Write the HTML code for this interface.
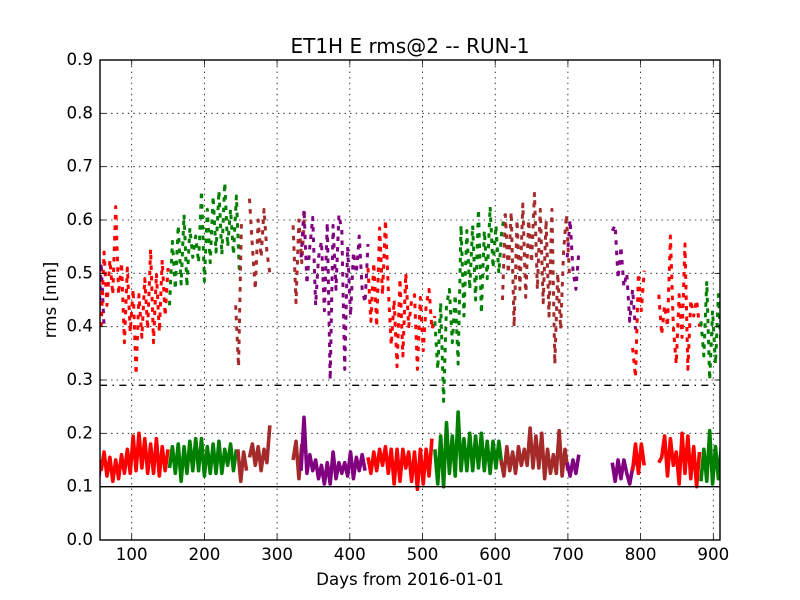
<!DOCTYPE html>
<html>
<head>
<meta charset="utf-8">
<title>ET1H E rms@2 -- RUN-1</title>
<style>
html,body{margin:0;padding:0;background:#fff;}
svg{display:block;}
text{font-family:"DejaVu Sans","Liberation Sans",sans-serif;fill:#000;}
</style>
</head>
<body>
<svg id="chart" width="800" height="600" viewBox="0 0 800 600" xmlns="http://www.w3.org/2000/svg">
  <defs><clipPath id="plot-clip"><rect x="100" y="60" width="620" height="480"/></clipPath></defs>
  <rect x="0" y="0" width="800" height="600" fill="#ffffff"/>
  <g id="grid-layer"></g>
  <g id="series-layer" clip-path="url(#plot-clip)"></g>
  <g id="frame-layer"></g>
  <text x="410" y="53" font-size="20" text-anchor="middle">ET1H E rms@2 -- RUN-1</text>
  <text x="410" y="585" font-size="16.67" text-anchor="middle">Days from 2016-01-01</text>
  <text x="0" y="0" font-size="16.67" text-anchor="middle" transform="translate(56 300) rotate(-90)">rms [nm]</text>
</svg>
<script>
// Axis ticks
const xTickValues = [100,200,300,400,500,600,700,800,900];
const xTickLabels = ['100','200','300','400','500','600','700','800','900'];
const yTickValues = [0,0.1,0.2,0.3,0.4,0.5,0.6,0.7,0.8,0.9];
const yTickLabels = ['0.0','0.1','0.2','0.3','0.4','0.5','0.6','0.7','0.8','0.9'];
const xDomain = [56.4,909.2];
const yDomain = [0,0.9];
const sampleStepDays = 4;

// Reference lines
const thresholdSolid = 0.1;
const thresholdDashDot = 0.29;

// Upper (dashed) series, one array per coloured run
const upperPurpleA = [.39,.52,.40];
const upperRedA = [.40,.54,.44,.525,.46,.625,.46,.52,.37,.51,.39,.47,.31,.46,.38,.49,.395,.545,.37,.50,.39,.525,.42,.51];
const upperGreenA = [.44,.56,.47,.59,.48,.61,.475,.585,.53,.57,.52,.655,.485,.62,.52,.645,.54,.655,.535,.67,.55,.62,.535,.645,.505];
const upperBrownA = [.44,.325,.60];
const upperBrownB = [.64,.55,.47,.60,.53,.62,.54,.50];
const upperBrownC = [.59,.445,.60,.52,.615];
const upperPurpleB = [.53,.62,.48,.55,.605,.44,.53,.56,.43,.595,.30,.59,.47,.61,.58,.32,.55,.42,.54,.50,.57,.47,.445,.555];
const upperRedB = [.51,.41,.52,.40,.585,.46,.60,.47,.365,.45,.325,.49,.345,.50,.40,.45,.46,.32,.455,.355,.44,.47,.395,.42];
const upperGreenB = [.41,.32,.445,.26,.44,.47,.37,.46,.33,.59,.42,.58,.47,.59,.45,.62,.425,.58,.49,.625,.51,.59,.50,.58,.61];
const upperBrownD = [.45,.61,.50,.615,.40,.60,.47,.63,.455,.60,.52,.65,.47,.62,.445,.60,.42,.62,.33,.50,.395,.54,.61,.50];
const upperPurpleC = [.53,.60,.505,.47,.54];
const upperPurpleD = [.58,.59,.49,.55,.475,.50,.41,.47,.395];
const upperRedC = [.36,.305,.50,.43,.505];
const upperRedD = [.46,.385,.44,.40,.57,.40,.33,.46,.38,.555,.32,.45,.42,.45,.40];
const upperGreenC = [.41,.345,.485,.30,.43,.33,.46,.35];

const upperRuns = [upperPurpleA,upperRedA,upperGreenA,upperBrownA,upperBrownB,upperBrownC,upperPurpleB,upperRedB,upperGreenB,upperBrownD,upperPurpleC,upperPurpleD,upperRedC,upperRedD,upperGreenC];
const upperStartDays = [54,58,152,243,262,322,333,425,517,610,699,761,789,825,883];
const upperCategories = ['purple','red','green','brown','brown','brown','purple','red','green','brown','purple','purple','red','red','green'];

// Lower (solid) series, one array per coloured run
const lowerPurpleA = [.11,.15];
const lowerRedA = [.13,.165,.12,.155,.11,.15,.115,.16,.125,.17,.125,.195,.13,.20,.135,.19,.125,.18,.125,.19,.12,.175,.13,.17];
const lowerGreenA = [.135,.175,.125,.18,.11,.175,.125,.185,.13,.19,.13,.19,.12,.175,.125,.18,.125,.185,.125,.17,.14,.18,.13,.17];
const lowerBrownA = [.17,.11,.165,.13];
const lowerBrownB = [.155,.18,.14,.175,.13,.17,.145,.215];
const lowerBrownC = [.15,.185,.115,.18];
const lowerPurpleB = [.13,.23,.125,.16,.13,.15,.115,.14,.105,.145,.105,.165,.115,.145,.125,.145,.12,.165,.115,.155,.13,.16,.13];
const lowerRedB = [.155,.125,.165,.13,.17,.14,.175,.125,.17,.105,.17,.11,.17,.135,.165,.11,.165,.095,.17,.105,.17,.12,.19];
const lowerGreenB = [.17,.105,.195,.10,.22,.125,.195,.12,.24,.13,.19,.13,.20,.13,.195,.135,.20,.13,.185,.125,.185,.135,.185,.14];
const lowerBrownD = [.15,.12,.175,.13,.165,.125,.175,.14,.17,.14,.21,.135,.195,.135,.20,.115,.17,.125,.16,.125,.205,.12,.17,.13];
const lowerPurpleC = [.145,.12,.15,.125,.16];
const lowerPurpleD = [.145,.11,.15,.115,.15,.125,.105,.135,.15];
const lowerRedC = [.13,.18,.125,.18,.14];
const lowerRedD = [.145,.155,.195,.12,.19,.14,.165,.105,.20,.125,.195,.115,.175,.10,.165];
const lowerGreenC = [.11,.17,.11,.205,.105,.175,.115,.175];

const lowerRuns = [lowerPurpleA,lowerRedA,lowerGreenA,lowerBrownA,lowerBrownB,lowerBrownC,lowerPurpleB,lowerRedB,lowerGreenB,lowerBrownD,lowerPurpleC,lowerPurpleD,lowerRedC,lowerRedD,lowerGreenC];
const lowerStartDays = [54,58,152,246,262,322,333,425,517,608,699,761,789,825,883];
const lowerCategories = ['purple','red','green','brown','brown','brown','purple','red','green','brown','purple','purple','red','red','green'];

(function () {
  const NS = 'http://www.w3.org/2000/svg';
  const L = 100, R = 720, T = 60, B = 540;
  const palette = { red: '#ff0000', green: '#008000', brown: '#a52a2a', purple: '#800080' };
  const xScale = function (d) { return L + (R - L) * (d - xDomain[0]) / (xDomain[1] - xDomain[0]); };
  const yScale = function (v) { return B - (B - T) * (v - yDomain[0]) / (yDomain[1] - yDomain[0]); };
  const gridLayer = document.getElementById('grid-layer');
  const seriesLayer = document.getElementById('series-layer');
  const frameLayer = document.getElementById('frame-layer');

  function make(tag, parent, attrs) {
    const el = document.createElementNS(NS, tag);
    Object.keys(attrs).forEach(function (k) { el.setAttribute(k, attrs[k]); });
    parent.appendChild(el);
    return el;
  }
  const gridStyle = { stroke: '#000', 'stroke-width': 0.8, 'stroke-dasharray': '1.39 4.17', fill: 'none' };
  const tickStyle = { stroke: '#000', 'stroke-width': 0.8, fill: 'none' };

  xTickValues.forEach(function (d, i) {
    const x = xScale(d);
    const g = make('line', gridLayer, Object.assign({ x1: x, x2: x, y1: B, y2: T }, gridStyle));
    
    
    const t1 = make('line', frameLayer, Object.assign({ x1: x, x2: x, y1: B, y2: B - 5.5 }, tickStyle));
    
    
    const t2 = make('line', frameLayer, Object.assign({ x1: x, x2: x, y1: T, y2: T + 5.5 }, tickStyle));
    
    
    const label = make('text', frameLayer, { x: x, y: 560, 'font-size': 16.67, 'text-anchor': 'middle' });
    label.textContent = xTickLabels[i];
    
    
  });

  yTickValues.forEach(function (v, i) {
    const y = yScale(v);
    const g = make('line', gridLayer, Object.assign({ x1: L, x2: R, y1: y, y2: y }, gridStyle));
    
    
    const t1 = make('line', frameLayer, Object.assign({ x1: L, x2: L + 5.5, y1: y, y2: y }, tickStyle));
    
    
    const t2 = make('line', frameLayer, Object.assign({ x1: R, x2: R - 5.5, y1: y, y2: y }, tickStyle));
    
    
    const label = make('text', frameLayer, { x: 93, y: y + 5, 'font-size': 16.67, 'text-anchor': 'end' });
    label.textContent = yTickLabels[i];
    
    
  });

  function pointsFor(values, startDay) {
    return values.map(function (v, i) {
      return xScale(startDay + i * sampleStepDays).toFixed(2) + ',' + yScale(v).toFixed(2);
    }).join(' ');
  }

  upperRuns.forEach(function (values, i) {
    const line = make('polyline', seriesLayer, {
      points: pointsFor(values, upperStartDays[i]),
      fill: 'none',
      stroke: palette[upperCategories[i]],
      'stroke-width': 3,
      'stroke-dasharray': '4.5 6',
      'stroke-linejoin': 'round'
    });
    
    
  });

  lowerRuns.forEach(function (values, i) {
    const line = make('polyline', seriesLayer, {
      points: pointsFor(values, lowerStartDays[i]),
      fill: 'none',
      stroke: palette[lowerCategories[i]],
      'stroke-width': 3.6,
      'stroke-linejoin': 'round'
    });
    
    
  });

  const solidLine = make('line', seriesLayer, {
    x1: L, x2: R, y1: yScale(thresholdSolid), y2: yScale(thresholdSolid),
    stroke: '#000', 'stroke-width': 1.4
  });
  
  

  const dashDotLine = make('line', seriesLayer, {
    x1: L, x2: R, y1: yScale(thresholdDashDot), y2: yScale(thresholdDashDot),
    stroke: '#000', 'stroke-width': 1.4, 'stroke-dasharray': '7 5.5 1.4 5.5'
  });
  
  

  const frame = make('rect', frameLayer, {
    x: L, y: T, width: R - L, height: B - T,
    fill: 'none', stroke: '#000', 'stroke-width': 1.4
  });
  
  
})();
</script>
</body>
</html>
